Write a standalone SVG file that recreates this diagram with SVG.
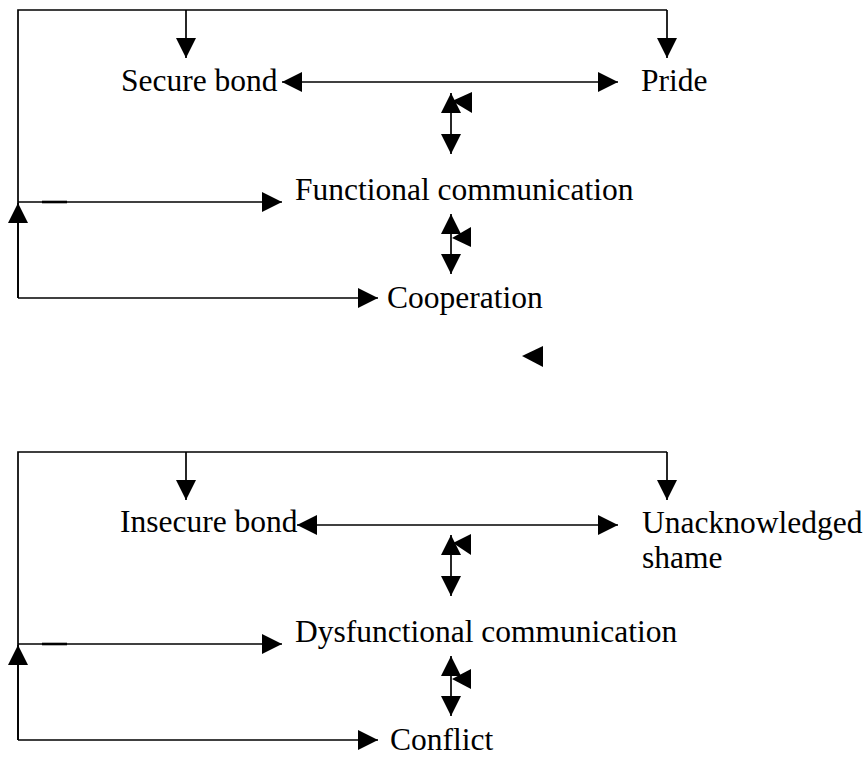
<svg xmlns="http://www.w3.org/2000/svg" width="866" height="758" viewBox="0 0 866 758">
<style>
  .ln { fill: none; stroke: #000; stroke-width: 1.7; }
  .ah { fill: #000; stroke: none; }
  .lbl { font-family: "Liberation Serif", "Times New Roman", serif; font-size: 31.5px; fill: #000; }
</style>
<defs>
  <marker id="arr" viewBox="0 0 20 20" refX="20" refY="10" markerWidth="20" markerHeight="20" markerUnits="userSpaceOnUse" orient="auto-start-reverse">
    <path d="M0,0 L20,10 L0,20 z" fill="#000"/>
  </marker>
</defs>
<rect width="866" height="758" fill="#fff"/>

<g id="connectors">
  <!-- top section -->
  <polyline class="ln" points="18,298 18,10 667,10"/>
  <line class="ln" x1="186" y1="10" x2="186" y2="58" marker-end="url(#arr)"/>
  <line class="ln" x1="667" y1="10" x2="667" y2="58" marker-end="url(#arr)"/>
  <line class="ln" x1="282" y1="82" x2="618" y2="82" marker-start="url(#arr)" marker-end="url(#arr)"/>
  <line class="ln" x1="451" y1="93" x2="451" y2="154" marker-start="url(#arr)" marker-end="url(#arr)"/>
  <polygon class="ah" points="452,101 472,92 472,113"/>
  <line class="ln" x1="18" y1="202" x2="282" y2="202" marker-end="url(#arr)"/>
  <line class="ln" x1="18" y1="298" x2="18" y2="203" marker-end="url(#arr)"/>
  <line class="ln" x1="42" y1="202" x2="67" y2="202" style="stroke-width:2.6"/>
  <line class="ln" x1="451" y1="214" x2="451" y2="274" marker-start="url(#arr)" marker-end="url(#arr)"/>
  <polygon class="ah" points="452,238 471,227 471,247"/>
  <line class="ln" x1="18" y1="298" x2="378" y2="298" marker-end="url(#arr)"/>
  <polygon class="ah" points="522,356 543,346 543,367"/>

  <!-- bottom section -->
  <polyline class="ln" points="18,740 18,452 667,452"/>
  <line class="ln" x1="186" y1="452" x2="186" y2="500" marker-end="url(#arr)"/>
  <line class="ln" x1="667" y1="452" x2="667" y2="500" marker-end="url(#arr)"/>
  <line class="ln" x1="297" y1="525" x2="618" y2="525" marker-start="url(#arr)" marker-end="url(#arr)"/>
  <line class="ln" x1="451" y1="535" x2="451" y2="596" marker-start="url(#arr)" marker-end="url(#arr)"/>
  <polygon class="ah" points="453,543 471,534 471,555"/>
  <line class="ln" x1="18" y1="644" x2="282" y2="644" marker-end="url(#arr)"/>
  <line class="ln" x1="18" y1="740" x2="18" y2="645" marker-end="url(#arr)"/>
  <line class="ln" x1="42" y1="644" x2="67" y2="644" style="stroke-width:2.6"/>
  <line class="ln" x1="451" y1="656" x2="451" y2="716" marker-start="url(#arr)" marker-end="url(#arr)"/>
  <polygon class="ah" points="452,679 471,669 471,689"/>
  <line class="ln" x1="18" y1="740" x2="378" y2="740" marker-end="url(#arr)"/>
</g>

<g id="secure-bond"><text class="lbl" x="121" y="91">Secure bond</text></g>
<g id="pride"><text class="lbl" x="641" y="91">Pride</text></g>
<g id="functional-communication"><text class="lbl" x="295" y="200">Functional communication</text></g>
<g id="cooperation"><text class="lbl" x="387" y="308">Cooperation</text></g>

<g id="insecure-bond"><text class="lbl" x="120" y="532">Insecure bond</text></g>
<g id="unacknowledged-shame"><text class="lbl" x="642" y="533">Unacknowledged</text><text class="lbl" x="642" y="568">shame</text></g>
<g id="dysfunctional-communication"><text class="lbl" x="295" y="642">Dysfunctional communication</text></g>
<g id="conflict"><text class="lbl" x="390" y="750">Conflict</text></g>
</svg>
